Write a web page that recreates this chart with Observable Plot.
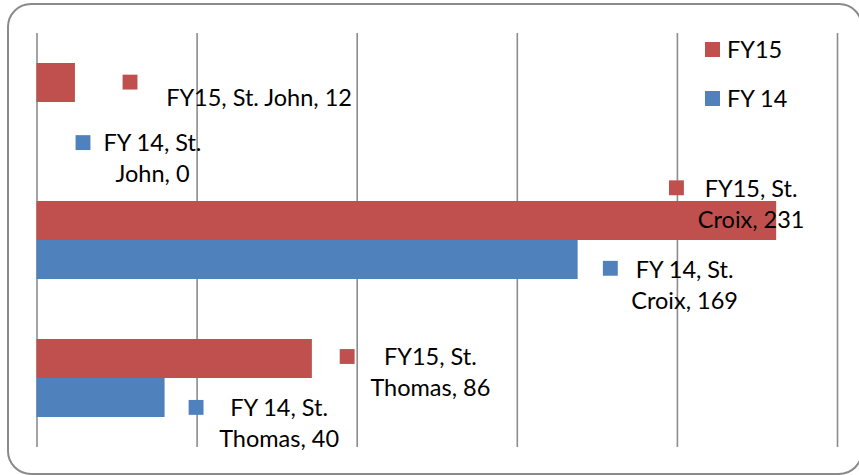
<!DOCTYPE html>
<html>
<head>
<meta charset="utf-8">
<script src="https://cdn.jsdelivr.net/npm/d3@7"></script>
<script src="https://cdn.jsdelivr.net/npm/@observablehq/plot@0.6"></script>
<style>
  html, body { margin: 0; padding: 0; background: #fff; }
  #wrap { position: relative; width: 859px; height: 475px; overflow: hidden; font-family: Lato, "Open Sans", sans-serif; }
  #border { position: absolute; left: 7px; top: 3px; width: 856px; height: 472px; box-sizing: border-box;
            border: 2px solid #8a8a8a; border-radius: 24px; pointer-events: none; }
  #chart { position: absolute; left: 0; top: 0; }
  .leg { position: absolute; display: flex; align-items: center; font-size: 23.5px; color: #000; }
  .leg span.sw { display: inline-block; width: 15px; height: 15px; margin-right: 7px; }
</style>
</head>
<body>
<div id="wrap">
  <div id="chart"></div>
  <div id="legend"></div>
  <div id="border"></div>
</div>
<script>
// ---- data ----
const categories = ["St. John", "St. Croix", "St. Thomas"];
const seriesNames = ["FY15", "FY 14"];
const fy15 = [12, 231, 86];
const fy14 = [0, 169, 40];
const xTicks = [0, 50, 100, 150, 200, 250];
const seriesColors = ["#C0504D", "#4F81BD"];
// label wrapping (Excel-style) per row: FY15/FY14 for each category
const wrapLabel = [false, true, true, true, true, true];

// ---- label layout nudges (px), relative to bar end / bar centre ----
const keyNudge  = [[54.6, -0.9], [46, 20.6], [-100.2, -33.2], [32.2, 8.3], [34.8, -2.5], [31, 9.4]];
const textNudge = [[183.6, 13], [115.5, 35], [-25.5, -18.5], [106.5, 23.3], [118, 11.5], [114, 24]];

const rows = [];
categories.forEach((c, i) => {
  rows.push({category: c, series: seriesNames[0], value: fy15[i]});
  rows.push({category: c, series: seriesNames[1], value: fy14[i]});
});
rows.forEach((r, i) => {
  r.label = wrapLabel[i]
    ? `${r.series}, ${r.category.split(" ")[0]}\n${r.category.split(" ").slice(1).join(" ")}, ${r.value}`
    : `${r.series}, ${r.category}, ${r.value}`;
});

const marks = [
  Plot.ruleX(xTicks, {stroke: "#8c8c8c", strokeWidth: 1.6}),
  Plot.barX(rows, {x: "value", y: "series", fy: "category", fill: "series"})
];
rows.forEach((r, i) => {
  marks.push(Plot.dot([r], {x: "value", y: "series", fy: "category", fill: "series", symbol: "square", r: 8.4,
    dx: keyNudge[i][0], dy: keyNudge[i][1]}));
  marks.push(Plot.text([r], {x: "value", y: "series", fy: "category", text: "label",
    dx: textNudge[i][0], dy: textNudge[i][1], textAnchor: "middle", lineAnchor: "middle",
    lineHeight: 1.32, fontSize: 23.5, fill: "#000"}));
});

const chart = Plot.plot({
  width: 859,
  height: 475,
  marginLeft: 36.5,
  marginRight: 22,
  marginTop: 32,
  marginBottom: 28,
  style: {fontFamily: "Lato, 'Open Sans', sans-serif", background: "transparent", overflow: "visible"},
  x: {domain: [xTicks[0], xTicks[xTicks.length - 1]], axis: null},
  y: {domain: seriesNames, paddingInner: 0, paddingOuter: 0.75, axis: null},
  fy: {domain: categories, padding: 0, axis: null},
  color: {domain: seriesNames, range: seriesColors},
  marks
});
document.getElementById("chart").appendChild(chart);

// legend
const legend = document.getElementById("legend");
seriesNames.forEach((s, i) => {
  const d = document.createElement("div");
  d.className = "leg";
  d.style.left = "705px";
  d.style.top = (35 + i * 49) + "px";
  d.style.height = "28px";
  d.innerHTML = `<span class="sw" style="background:${seriesColors[i]}"></span>${s}`;
  legend.appendChild(d);
});
</script>
</body>
</html>
